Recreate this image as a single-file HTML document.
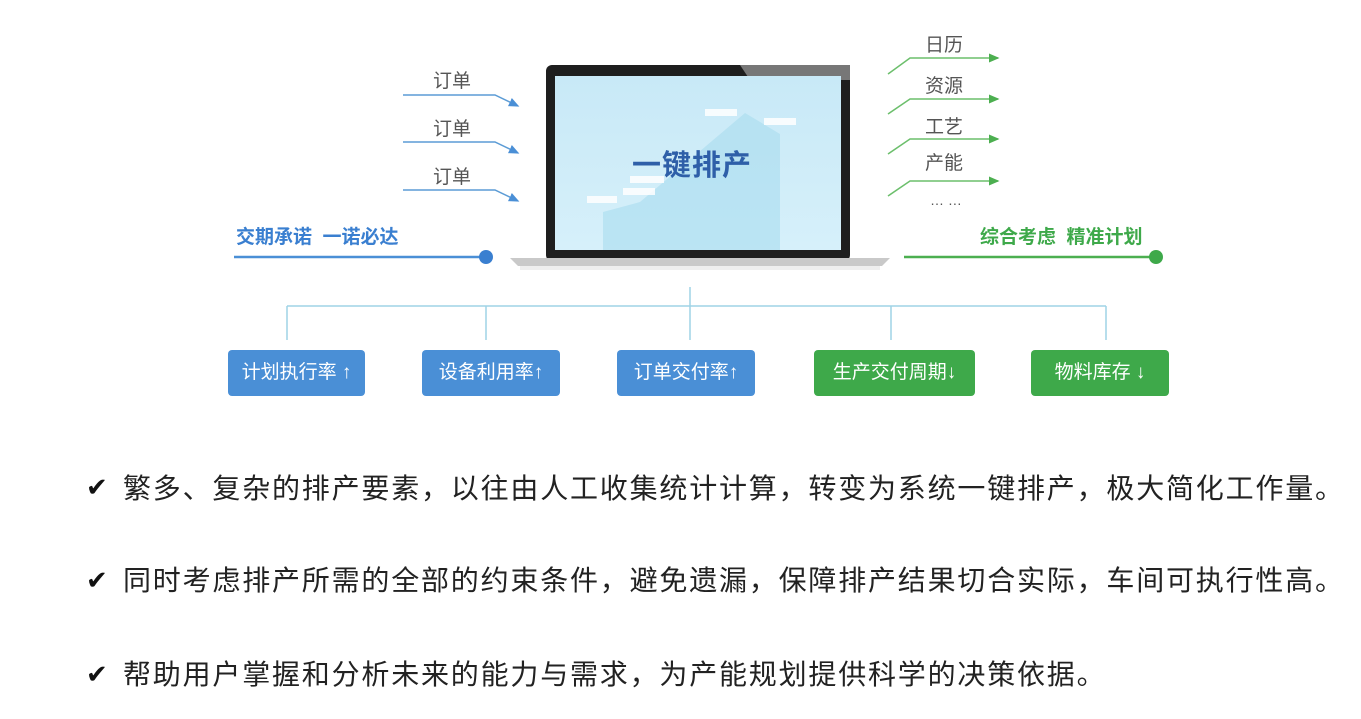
<!DOCTYPE html>
<html><head><meta charset="utf-8"><style>
body{margin:0;width:1361px;height:719px;background:#fff;position:relative;overflow:hidden;font-family:"Liberation Sans","Noto Sans CJK SC",sans-serif}
.a{position:absolute;white-space:nowrap}
.lbl{font-size:19px;color:#555}
.box{position:absolute;top:350px;height:46px;border-radius:4px;color:#fff;font-size:19px;line-height:46px;text-align:center}
.b{background:#4a8fd6}.g{background:#3ea94a}
.t{font-size:28px;letter-spacing:1.8px;color:#222;left:123px}
.ck{position:absolute;left:86px;font-size:26px;color:#111}
</style></head><body>
<svg class="a" style="left:0;top:0" width="1361" height="719">
<defs>
<marker id="ab" markerWidth="8" markerHeight="8" refX="6" refY="4" orient="auto"><path d="M0,1 L7,4 L0,7z" fill="#4a8fd6"/></marker>
<marker id="ag" markerWidth="8" markerHeight="8" refX="6" refY="4" orient="auto"><path d="M0,1 L7,4 L0,7z" fill="#4caf50"/></marker>
<linearGradient id="sc" x1="0" y1="0" x2="0" y2="1"><stop offset="0" stop-color="#c8e9f7"/><stop offset="1" stop-color="#d6f0fa"/></linearGradient>
</defs>
<g stroke="#5b9bd5" stroke-width="1.5" fill="none">
<path d="M403 95 H495 L518 106" marker-end="url(#ab)"/>
<path d="M403 142 H495 L518 153" marker-end="url(#ab)"/>
<path d="M403 190 H495 L518 201" marker-end="url(#ab)"/>
</g>
<g stroke="#6cbf6c" stroke-width="1.5" fill="none">
<path d="M888 74 L910 58 H998" marker-end="url(#ag)"/>
<path d="M888 114 L910 99 H998" marker-end="url(#ag)"/>
<path d="M888 154 L910 139 H998" marker-end="url(#ag)"/>
<path d="M888 196 L910 181 H998" marker-end="url(#ag)"/>
</g>
<line x1="234" y1="257" x2="485" y2="257" stroke="#4a8fd6" stroke-width="2.5"/>
<circle cx="486" cy="257" r="7" fill="#3a7fd0"/>
<line x1="904" y1="257" x2="1155" y2="257" stroke="#4caf50" stroke-width="2.5"/>
<circle cx="1156" cy="257" r="7" fill="#3ea94a"/>
<rect x="546" y="65" width="304" height="196" rx="6" fill="#1e1e1e"/>
<polygon points="740,65 850,65 850,80 750,80" fill="#777"/>
<rect x="555" y="76" width="286" height="174" fill="url(#sc)"/>
<path d="M603 212 L640 202 L745 113 L780 134 L780 250 L603 250z" fill="#a8dcef" opacity=".6"/>
<g fill="#fff" opacity=".85"><rect x="587" y="196" width="30" height="7"/><rect x="623" y="188" width="32" height="7"/><rect x="630" y="176" width="34" height="7"/><rect x="705" y="109" width="32" height="7"/><rect x="764" y="118" width="32" height="7"/></g>
<path d="M510 258 H890 L882 266 H518z" fill="#c9c9c9"/>
<rect x="520" y="266" width="360" height="4" fill="#eee"/>
<g stroke="#9fd3e6" stroke-width="1.5" fill="none">
<path d="M690 287 V340"/><path d="M287 306 H1106"/>
<path d="M287 306 V340 M486 306 V340 M891 306 V340 M1106 306 V340"/>
</g>
</svg>
<div class="a lbl" style="left:433px;top:66px">订单</div>
<div class="a lbl" style="left:433px;top:114px">订单</div>
<div class="a lbl" style="left:433px;top:162px">订单</div>
<div class="a lbl" style="left:925px;top:30px">日历</div>
<div class="a lbl" style="left:925px;top:71px">资源</div>
<div class="a lbl" style="left:925px;top:112px">工艺</div>
<div class="a lbl" style="left:925px;top:148px">产能</div>
<div class="a lbl" style="left:930px;top:192px;font-size:14px">… …</div>
<div class="a" style="left:236px;top:222px;font-size:19px;color:#3a7fd0;font-weight:bold">交期承诺&nbsp; 一诺必达</div>
<div class="a" style="left:980px;top:222px;font-size:19px;color:#3ea94a;font-weight:bold">综合考虑&nbsp; 精准计划</div>
<div class="a" style="left:632px;top:142px;font-size:29px;color:#2e5fa8;font-weight:bold;letter-spacing:1px">一键排产</div>
<div class="box b" style="left:228px;width:137px">计划执行率 ↑</div>
<div class="box b" style="left:422px;width:138px">设备利用率↑</div>
<div class="box b" style="left:617px;width:138px">订单交付率↑</div>
<div class="box g" style="left:814px;width:161px">生产交付周期↓</div>
<div class="box g" style="left:1031px;width:138px">物料库存 ↓</div>
<div class="ck" style="top:472px">✔</div>
<div class="ck" style="top:565px">✔</div>
<div class="ck" style="top:659px">✔</div>
<div class="a t" style="top:467px">繁多、复杂的排产要素，以往由人工收集统计计算，转变为系统一键排产，极大简化工作量。</div>
<div class="a t" style="top:559px">同时考虑排产所需的全部的约束条件，避免遗漏，保障排产结果切合实际，车间可执行性高。</div>
<div class="a t" style="top:653px">帮助用户掌握和分析未来的能力与需求，为产能规划提供科学的决策依据。</div>
</body></html>
